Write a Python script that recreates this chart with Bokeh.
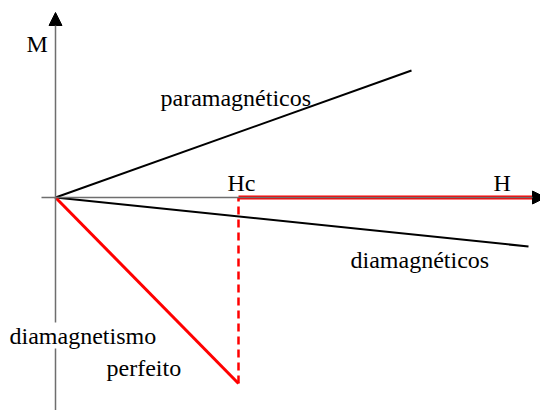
from bokeh.plotting import figure
from bokeh.models import Range1d, Arrow, NormalHead, Label
from bokeh.embed import file_html
from bokeh.resources import INLINE

# Schematic M(H) curves, arbitrary units (origin at H=0, M=0)
H_para = [0, 356]
M_para = [0, 127]

H_dia = [0, 473]
M_dia = [0, -49]

# Perfect diamagnetism (superconductor): linear down to Hc, then M = 0
Hc = 183
M_at_Hc = -186
H_sc = [0, Hc]
M_sc = [0, M_at_Hc]
H_drop = [Hc, Hc]
M_drop = [M_at_Hc, 0]
H_normal = [Hc, 477]
M_normal = [0, 0]

# Axis extents
H_axis = [-14, 490]
M_axis = [-213, 185]

# Labels: (text, H, M)
label_text = ["M", "paramagnéticos", "Hc", "H", "diamagnéticos", "diamagnetismo", "perfeito"]
label_H = [-29, 105, 172, 438, 295, -46, 51]
label_M = [154, 100, 15, 15, -62, -138, -170]

FONT = "'Liberation Serif', 'Times New Roman', serif"
FS = "24px"

p = figure(width=540, height=410,
           x_range=Range1d(-55, 485), y_range=Range1d(-213, 197),
           output_backend="svg", toolbar_location=None,
           x_axis_location=None, y_axis_location=None,
           min_border=0)
p.grid.visible = False
p.outline_line_color = None
p.background_fill_color = "white"
p.border_fill_color = "white"

axis_color = "#6e6e6e"
# Coordinate axes with arrow heads
p.add_layout(Arrow(end=NormalHead(size=13, fill_color="black", line_color="black"),
                   x_start=0, y_start=M_axis[0], x_end=0, y_end=M_axis[1],
                   line_color=axis_color, line_width=1.5))
p.add_layout(Arrow(end=NormalHead(size=13, fill_color="black", line_color="black"),
                   x_start=H_axis[0], y_start=0, x_end=H_axis[1], y_end=0,
                   line_color=axis_color, line_width=1.5))

# Paramagnetic and diamagnetic responses
p.line(H_para, M_para, line_color="black", line_width=2)
p.line(H_dia, M_dia, line_color="black", line_width=2)

# Perfect diamagnetism
p.line(H_sc, M_sc, line_color="#ff0000", line_width=3)
p.line(H_drop, M_drop, line_color="#ff0000", line_width=2.5, line_dash="8 5")
p.line(H_normal, M_normal, line_color="#ff0000", line_width=4)

for t, hx, my in zip(label_text, label_H, label_M):
    lab = Label(x=hx, y=my, text=t, text_font=FONT, text_font_size=FS,
                text_color="black", text_baseline="alphabetic", text_align="left")
    if t == "diamagnetismo":
        # white box so the M axis is interrupted behind the label
        lab.background_fill_color = "white"
    p.add_layout(lab)

open("out.html", "w").write(file_html(p, INLINE))
